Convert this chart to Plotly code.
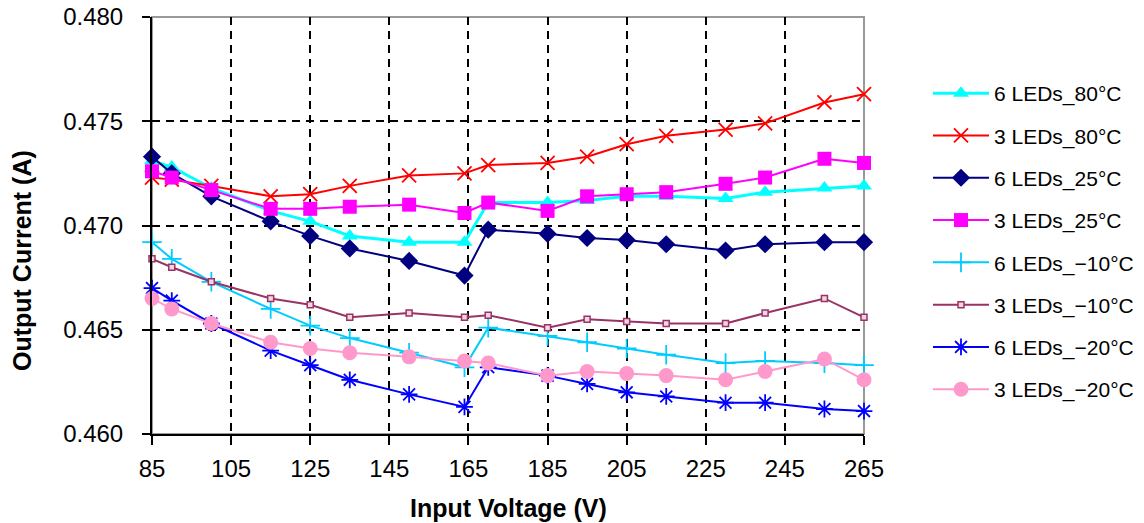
import plotly.graph_objects as go

voltage = [85, 90, 100, 115, 125, 135, 150, 164, 170, 185, 195, 205, 215, 230, 240, 255, 265]

led6_80 = [0.4731, 0.4728, 0.4718, 0.4707, 0.4702, 0.4695, 0.4692, 0.4692, 0.4711, 0.4711, 0.4712, 0.4714, 0.4714, 0.4713, 0.4716, 0.4718, 0.4719]
led3_80 = [0.4723, 0.4722, 0.4719, 0.4714, 0.4715, 0.4719, 0.4724, 0.4725, 0.4729, 0.4730, 0.4733, 0.4739, 0.4743, 0.4746, 0.4749, 0.4759, 0.4763]
led6_25 = [0.4733, 0.4725, 0.4714, 0.4702, 0.4695, 0.4689, 0.4683, 0.4676, 0.4698, 0.4696, 0.4694, 0.4693, 0.4691, 0.4688, 0.4691, 0.4692, 0.4692]
led3_25 = [0.4726, 0.4723, 0.4717, 0.4708, 0.4708, 0.4709, 0.4710, 0.4706, 0.4711, 0.4707, 0.4714, 0.4715, 0.4716, 0.4720, 0.4723, 0.4732, 0.4730]
led6_m10 = [0.4692, 0.4684, 0.4673, 0.4660, 0.4652, 0.4646, 0.4639, 0.4632, 0.4651, 0.4647, 0.4644, 0.4641, 0.4638, 0.4634, 0.4635, 0.4634, 0.4633]
led3_m10 = [0.4684, 0.4680, 0.4673, 0.4665, 0.4662, 0.4656, 0.4658, 0.4656, 0.4657, 0.4651, 0.4655, 0.4654, 0.4653, 0.4653, 0.4658, 0.4665, 0.4656]
led6_m20 = [0.4670, 0.4664, 0.4653, 0.4640, 0.4633, 0.4626, 0.4619, 0.4613, 0.4632, 0.4628, 0.4624, 0.4620, 0.4618, 0.4615, 0.4615, 0.4612, 0.4611]
led3_m20 = [0.4665, 0.4660, 0.4653, 0.4644, 0.4641, 0.4639, 0.4637, 0.4635, 0.4634, 0.4628, 0.4630, 0.4629, 0.4628, 0.4626, 0.4630, 0.4636, 0.4626]

names = ["6 LEDs_80°C", "3 LEDs_80°C", "6 LEDs_25°C", "3 LEDs_25°C",
         "6 LEDs_\u221210°C", "3 LEDs_\u221210°C", "6 LEDs_\u221220°C", "3 LEDs_\u221220°C"]
x_ticks = [85, 105, 125, 145, 165, 185, 205, 225, 245, 265]
y_ticks = [0.460, 0.465, 0.470, 0.475, 0.480]

FONT = "Liberation Sans, Arial, Helvetica, sans-serif"

styles = [
    dict(line=dict(color="#00FFFF", width=3), marker=dict(symbol="triangle-up", size=14, color="#00FFFF")),
    dict(line=dict(color="#FF0000", width=2), marker=dict(symbol="x-thin", size=14, color="#FF0000", line=dict(color="#FF0000", width=1.8))),
    dict(line=dict(color="#000080", width=2), marker=dict(symbol="diamond", size=14, color="#000080")),
    dict(line=dict(color="#FF00FF", width=2), marker=dict(symbol="square", size=14, color="#FF00FF")),
    dict(line=dict(color="#00CCFF", width=2), marker=dict(symbol="cross-thin", size=14, color="#00CCFF", line=dict(color="#00CCFF", width=1.8))),
    dict(line=dict(color="#993366", width=2), marker=dict(symbol="square", size=6, color="#F2D4E2", line=dict(color="#993366", width=1.5))),
    dict(line=dict(color="#0000FF", width=2), marker=dict(symbol="asterisk-open", size=14, color="#0000FF", line=dict(color="#0000FF", width=1.8))),
    dict(line=dict(color="#FF99CC", width=2), marker=dict(symbol="circle", size=15, color="#FF99CC")),
]
series = [led6_80, led3_80, led6_25, led3_25, led6_m10, led3_m10, led6_m20, led3_m20]

fig = go.Figure()
for i, (nm, ys, st) in enumerate(zip(names, series, styles)):
    fig.add_trace(go.Scatter(x=voltage, y=ys, name=nm, mode="lines+markers",
                             legendgroup=f"g{i}", cliponaxis=False, **st))

W, H = 1144, 523
L, R, T, B = 152, 864, 17, 434

fig.update_layout(
    width=W, height=H,
    margin=dict(l=L, r=W - R, t=T, b=H - B, pad=0, autoexpand=False),
    paper_bgcolor="white", plot_bgcolor="white",
    font=dict(family=FONT, color="black"),
    showlegend=True,
    legend=dict(x=(928 - L) / (R - L), y=(B - 73) / (B - T), xanchor="left", yanchor="top",
                font=dict(size=21, family=FONT), tracegroupgap=12, itemwidth=56,
                bgcolor="rgba(0,0,0,0)"),
    shapes=[dict(type="rect", xref="paper", yref="paper", x0=0, x1=1, y0=0, y1=1,
                 line=dict(color="#999999", width=2), layer="below")],
    annotations=[
        dict(text="<b>Output Current (A)</b>", xref="paper", yref="paper",
             x=(22 - L) / (R - L), y=(B - 261) / (B - T), xanchor="center", yanchor="middle",
             textangle=-90, showarrow=False, font=dict(size=25, family=FONT)),
        dict(text="<b>Input Voltage (V)</b>", xref="paper", yref="paper",
             x=0.5, y=-(508 - B) / (B - T), xanchor="center", yanchor="middle",
             showarrow=False, font=dict(size=25, family=FONT)),
    ],
)
fig.update_xaxes(range=[85, 265], tickvals=x_ticks, ticktext=[str(v) for v in x_ticks],
                 automargin=False,
                 showline=True, linecolor="black", linewidth=2,
                 ticks="outside", ticklen=9, tickwidth=2, tickcolor="black",
                 tickfont=dict(size=24, family=FONT), ticklabelstandoff=3,
                 showgrid=True, gridcolor="black", gridwidth=2, griddash="8px,6px",
                 zeroline=False)
fig.update_yaxes(range=[0.460, 0.480], tickvals=y_ticks, ticktext=[f"{v:.3f}" for v in y_ticks],
                 automargin=False,
                 showline=True, linecolor="black", linewidth=2,
                 ticks="outside", ticklen=8, tickwidth=2, tickcolor="black",
                 tickfont=dict(size=24, family=FONT), ticklabelstandoff=14,
                 showgrid=True, gridcolor="black", gridwidth=2, griddash="8px,6px",
                 zeroline=False)

fig.write_html("out.html", config={"displayModeBar": False},
               post_script="document.body.style.margin='0';document.body.style.overflow='hidden';")
